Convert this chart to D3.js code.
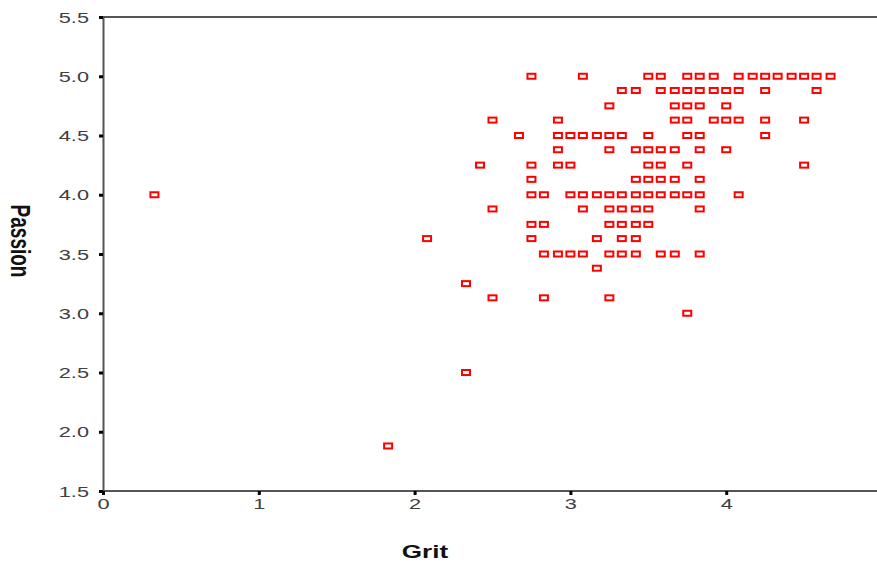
<!DOCTYPE html>
<html>
<head>
<meta charset="utf-8">
<script src="https://cdn.jsdelivr.net/npm/d3@7"></script>
<style>
  body { margin: 0; background: #fff; }
  svg { display: block; }
</style>
</head>
<body>
<div id="chart-area"></div>
<script>
// data (grit steps of 1/12, passion steps of 1/8)
var grit = [
  2.75, 3.08, 3.5, 3.58, 3.75, 3.83, 3.92, 4.08, 4.17, 4.25, 4.33, 4.42, 4.5, 4.58, 4.67,
  3.33, 3.42, 3.58, 3.67, 3.75, 3.83, 3.92, 4.0, 4.08, 4.25, 4.58,
  3.25, 3.67, 3.75, 3.83, 4.0,
  2.5, 2.92, 3.67, 3.75, 3.92, 4.0, 4.08, 4.25, 4.5,
  2.67, 2.92, 3.0, 3.08, 3.17, 3.25, 3.33, 3.5, 3.75, 3.83, 4.25,
  2.92, 3.25, 3.42, 3.5, 3.58, 3.67, 3.83, 4.0,
  2.42, 2.75, 2.92, 3.0, 3.5, 3.58, 3.75, 4.5,
  2.75, 3.42, 3.5, 3.58, 3.67, 3.83,
  0.33, 2.75, 2.83, 3.0, 3.08, 3.17, 3.25, 3.33, 3.42, 3.5, 3.58, 3.67, 3.75, 3.83, 4.08,
  2.5, 3.08, 3.25, 3.33, 3.42, 3.5, 3.83,
  2.75, 2.83, 3.25, 3.33, 3.42, 3.5,
  2.08, 2.75, 3.17, 3.33, 3.42,
  2.83, 2.92, 3.0, 3.08, 3.25, 3.33, 3.42, 3.58, 3.67, 3.83,
  3.17,
  2.33,
  2.5, 2.83, 3.25,
  3.75,
  2.33,
  1.83
];
var passion = [
  5.0, 5.0, 5.0, 5.0, 5.0, 5.0, 5.0, 5.0, 5.0, 5.0, 5.0, 5.0, 5.0, 5.0, 5.0,
  4.88, 4.88, 4.88, 4.88, 4.88, 4.88, 4.88, 4.88, 4.88, 4.88, 4.88,
  4.75, 4.75, 4.75, 4.75, 4.75,
  4.63, 4.63, 4.63, 4.63, 4.63, 4.63, 4.63, 4.63, 4.63,
  4.5, 4.5, 4.5, 4.5, 4.5, 4.5, 4.5, 4.5, 4.5, 4.5, 4.5,
  4.38, 4.38, 4.38, 4.38, 4.38, 4.38, 4.38, 4.38,
  4.25, 4.25, 4.25, 4.25, 4.25, 4.25, 4.25, 4.25,
  4.13, 4.13, 4.13, 4.13, 4.13, 4.13,
  4.0, 4.0, 4.0, 4.0, 4.0, 4.0, 4.0, 4.0, 4.0, 4.0, 4.0, 4.0, 4.0, 4.0, 4.0,
  3.88, 3.88, 3.88, 3.88, 3.88, 3.88, 3.88,
  3.75, 3.75, 3.75, 3.75, 3.75, 3.75,
  3.63, 3.63, 3.63, 3.63, 3.63,
  3.5, 3.5, 3.5, 3.5, 3.5, 3.5, 3.5, 3.5, 3.5, 3.5,
  3.38,
  3.25,
  3.13, 3.13, 3.13,
  3.0,
  2.5,
  1.88
];
var xTicks = [0, 1, 2, 3, 4, 5];
var yTicks = [1.5, 2.0, 2.5, 3.0, 3.5, 4.0, 4.5, 5.0, 5.5];

var W = 877, H = 564;
var margin = {top: 17, left: 103, bottom: 73};
var stretch = 1.45; // the source picture is stretched sideways

var svg = d3.select("#chart-area")
  .append("svg")
    .attr("width", W)
    .attr("height", H);

var x = d3.scaleLinear().domain([0, 5]).range([margin.left, 882]);
var y = d3.scaleLinear().domain([1.5, 5.5]).range([H - margin.bottom, margin.top]);

// top border
svg.append("line")
  .attr("x1", x(0)).attr("x2", W)
  .attr("y1", y(5.5)).attr("y2", y(5.5))
  .attr("stroke", "#555").attr("stroke-width", 2);

// Y axis
var yAxisGroup = svg.append("g")
  .attr("transform", "translate(" + x(0) + ",0)")
  .call(d3.axisLeft(y).tickValues(yTicks).tickSize(4).tickSizeOuter(0)
    .tickFormat(d3.format(".1f")));
yAxisGroup.select(".domain").attr("stroke", "#555").attr("stroke-width", 2);
yAxisGroup.selectAll(".tick line").attr("stroke", "#000").attr("stroke-width", 3);
yAxisGroup.selectAll(".tick text")
  .attr("x", null).attr("dy", null)
  .attr("dominant-baseline", "central")
  .attr("text-anchor", "end")
  .attr("transform", "translate(-14,0) scale(" + stretch + ",1)")
  .attr("font-family", "Liberation Sans, Arial, sans-serif")
  .attr("font-size", 15)
  .attr("fill", "#404040");

// X axis
var xAxisGroup = svg.append("g")
  .attr("transform", "translate(0," + y(1.5) + ")")
  .call(d3.axisBottom(x).tickValues(xTicks).tickSize(4).tickSizeOuter(0)
    .tickFormat(d3.format("d")));
xAxisGroup.select(".domain").attr("stroke", "#555").attr("stroke-width", 2)
  .attr("d", "M" + x(0) + ",0H" + W);
xAxisGroup.selectAll(".tick line").attr("stroke", "#000").attr("stroke-width", 3);
xAxisGroup.selectAll(".tick text")
  .attr("y", null).attr("dy", null)
  .attr("transform", "translate(0,18) scale(" + stretch + ",1)")
  .attr("text-anchor", "middle")
  .attr("font-family", "Liberation Sans, Arial, sans-serif")
  .attr("font-size", 15)
  .attr("fill", "#404040");

// points
svg.append("g").selectAll("rect")
  .data(grit)
  .enter().append("rect")
    .attr("x", function(d) { return x(d) - 4; })
    .attr("y", function(d, i) { return y(passion[i]) - 2.5; })
    .attr("width", 8)
    .attr("height", 5)
    .attr("fill", "#fff")
    .attr("stroke", "#ff0000")
    .attr("stroke-width", 2);

// X label
svg.append("text")
  .attr("transform", "translate(425,558) scale(" + stretch + ",1)")
  .attr("text-anchor", "middle")
  .attr("font-family", "Liberation Sans, Arial, sans-serif")
  .attr("font-weight", "bold")
  .attr("font-size", 18)
  .attr("fill", "#111")
  .text("Grit");

// Y label
svg.append("text")
  .attr("transform", "translate(11,241) scale(" + stretch + ",1) rotate(90)")
  .attr("text-anchor", "middle")
  .attr("font-family", "Liberation Sans, Arial, sans-serif")
  .attr("font-weight", "bold")
  .attr("font-size", 19)
  .attr("fill", "#111")
  .text("Passion");
</script>
</body>
</html>
